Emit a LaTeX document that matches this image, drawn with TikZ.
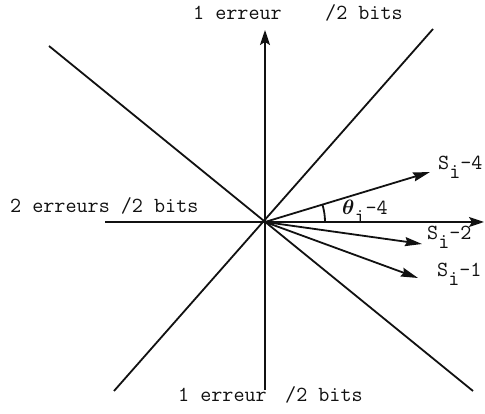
\documentclass[tikz,border=0pt]{standalone}
\usepackage{xcolor}
\usepackage{tikz}
\usetikzlibrary{arrows.meta,calc}
\definecolor{sketchInk}{HTML}{111111}
\definecolor{sketchPaper}{HTML}{FFFFFF}
\tikzset{
  axisline/.style={
    line width=1.8pt,
    draw=sketchInk
  },
  axisarrow/.style={
    axisline,
    -{Stealth[length=15pt,width=10pt,inset=3pt]}
  },
  vecarrow/.style={
    line width=1.8pt,
    draw=sketchInk,
    -{Stealth[length=17pt,width=9pt,inset=2pt]}
  },
  typed/.style={
    anchor=base west,
    inner sep=0pt,
    text=sketchInk,
    font=\fontsize{21.5}{24}\selectfont\ttfamily
  }
}
\newcommand{\lowi}{\raisebox{-9pt}{i}}

\begin{document}
\begin{tikzpicture}[x=1pt,y=1pt]
  \useasboundingbox[fill=sketchPaper] (0,0) rectangle (485,414);
  \coordinate (O) at (265,192);
  \coordinate (hleft) at (105,192);
  \coordinate (hright) at (484,192);
  \coordinate (vbottom) at (265,24);
  \coordinate (vtop) at (265,384);
  \coordinate (dAtl) at (49,368);
  \coordinate (dAbr) at (473,23);
  \coordinate (dBbl) at (114,23);
  \coordinate (dBtr) at (433,385);
  \coordinate (s4) at (430,242);
  \coordinate (s2) at (422,170);
  \coordinate (s1) at (418,136);
  \draw[axisline] (dAtl) -- (dAbr);
  \draw[axisline] (dBbl) -- (dBtr);
  \draw[axisarrow] (hleft) -- (hright);
  \draw[axisarrow] (vbottom) -- (vtop);
  \draw[vecarrow] (O) -- (s4);
  \draw[vecarrow] (O) -- (s2);
  \draw[vecarrow] (O) -- (s1);
  \draw[axisline] ($(O)+(60pt,0)$) arc[start angle=0,end angle=16.9,radius=60pt];
  \node[typed] (toperr) at (193,394) {1 erreur};
  \node[typed] (topbits) at (325,394) {/2 bits};
  \node[typed] (lefterr) at (10,201) {2 erreurs /2 bits};
  \node[typed] (boterr) at (178,12) {1 erreur};
  \node[typed] (botbits) at (285,12) {/2 bits};
  \node[typed] (s4lab) at (438,244) {S\lowi-4};
  \node[typed] (s2lab) at (427,174) {S\lowi-2};
  \node[typed] (s1lab) at (437,137) {S\lowi-1};
  \node[typed] (thetalab) at (342,199) {{\boldmath$\theta$}\lowi-4};
\end{tikzpicture}
\end{document}
